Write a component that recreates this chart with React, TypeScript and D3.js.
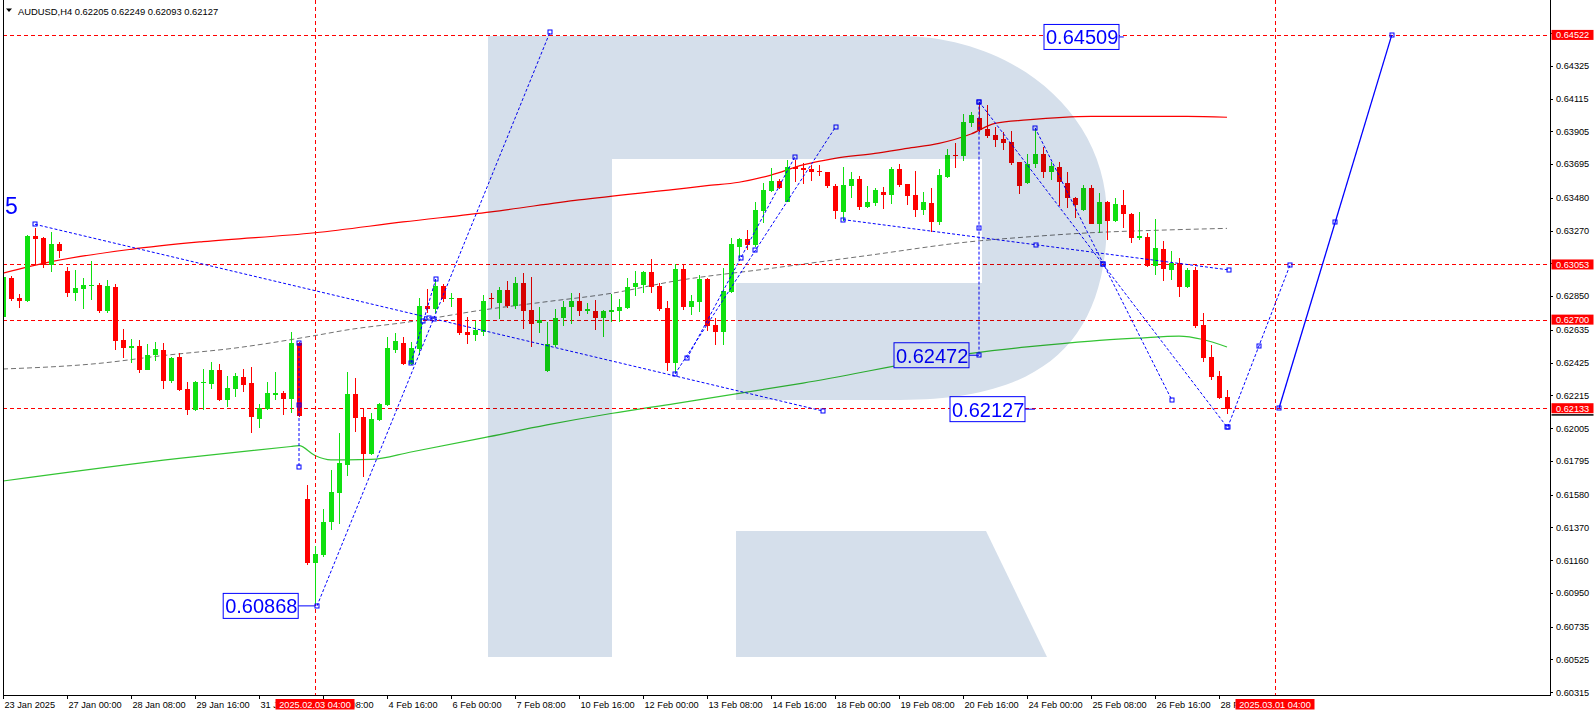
import React from 'react';
import * as d3 from 'd3';

type Bar = [number, number, number, number]; // open, high, low, close
type Pt = [number, number]; // bar index, price

// 23-24 Jan (from 23 Jan 16:00)
const weekJan23: Bar[] = [
  [0.62719, 0.62985, 0.62538, 0.62975], [0.62964, 0.62979, 0.62821, 0.62832],
  [0.62840, 0.62864, 0.62776, 0.62821], [0.62821, 0.63240, 0.62815, 0.63235],
  [0.63235, 0.63284, 0.63050, 0.63216], [0.63224, 0.63230, 0.63028, 0.63047],
  [0.63047, 0.63263, 0.63007, 0.63186], [0.63186, 0.63199, 0.63092, 0.63141],
];
// 27-31 Jan
const weekJan27: Bar[] = [
  [0.63013, 0.63039, 0.62847, 0.62873], [0.62873, 0.63018, 0.62821, 0.62902],
  [0.62898, 0.62966, 0.62766, 0.62922], [0.62915, 0.63075, 0.62826, 0.62919],
  [0.62922, 0.62937, 0.62740, 0.62757], [0.62757, 0.62954, 0.62740, 0.62915],
  [0.62907, 0.62928, 0.62506, 0.62565], [0.62570, 0.62638, 0.62452, 0.62521],
  [0.62521, 0.62574, 0.62425, 0.62533], [0.62533, 0.62570, 0.62361, 0.62378],
  [0.62378, 0.62544, 0.62375, 0.62474], [0.62472, 0.62559, 0.62437, 0.62512],
  [0.62506, 0.62548, 0.62258, 0.62309], [0.62305, 0.62460, 0.62297, 0.62455],
  [0.62461, 0.62489, 0.62245, 0.62250], [0.62256, 0.62299, 0.62090, 0.62122],
  [0.62122, 0.62305, 0.62115, 0.62301], [0.62297, 0.62382, 0.62122, 0.62301],
  [0.62288, 0.62429, 0.62254, 0.62378], [0.62378, 0.62416, 0.62177, 0.62186],
  [0.62186, 0.62339, 0.62143, 0.62262], [0.62258, 0.62360, 0.62203, 0.62339],
  [0.62333, 0.62386, 0.62237, 0.62282], [0.62294, 0.62399, 0.61977, 0.62079],
  [0.62066, 0.62160, 0.62006, 0.62132], [0.62128, 0.62301, 0.62122, 0.62230],
  [0.62220, 0.62365, 0.62186, 0.62230], [0.62230, 0.62241, 0.62092, 0.62194],
  [0.62192, 0.62620, 0.62100, 0.62548], [0.62548, 0.62559, 0.62080, 0.62083],
];
// 3-7 Feb
const weekFeb03: Bar[] = [
  [0.61554, 0.61642, 0.61130, 0.61145], [0.61145, 0.61251, 0.60880, 0.61200],
  [0.61194, 0.61486, 0.61183, 0.61405], [0.61407, 0.61738, 0.61354, 0.61597],
  [0.61593, 0.61977, 0.61392, 0.61780], [0.61770, 0.62365, 0.61699, 0.62224],
  [0.62224, 0.62326, 0.61981, 0.62073], [0.62079, 0.62134, 0.61695, 0.61840],
  [0.61840, 0.62100, 0.61835, 0.62062], [0.62058, 0.62169, 0.62050, 0.62160],
  [0.62154, 0.62587, 0.62150, 0.62516], [0.62506, 0.62612, 0.62484, 0.62563],
  [0.62548, 0.62591, 0.62410, 0.62416], [0.62416, 0.62557, 0.62410, 0.62516],
  [0.62512, 0.62836, 0.62474, 0.62787], [0.62787, 0.62894, 0.62740, 0.62768],
  [0.62766, 0.62958, 0.62740, 0.62915], [0.62915, 0.62928, 0.62815, 0.62834],
  [0.62834, 0.62872, 0.62783, 0.62836], [0.62836, 0.62840, 0.62602, 0.62617],
  [0.62621, 0.62715, 0.62544, 0.62604], [0.62604, 0.62689, 0.62565, 0.62634],
  [0.62623, 0.62858, 0.62595, 0.62820], [0.62838, 0.62872, 0.62772, 0.62832],
  [0.62804, 0.62911, 0.62702, 0.62890], [0.62890, 0.62947, 0.62772, 0.62787],
  [0.62787, 0.62971, 0.62766, 0.62932], [0.62932, 0.62996, 0.62642, 0.62757],
  [0.62761, 0.62975, 0.62523, 0.62672], [0.62676, 0.62783, 0.62612, 0.62698],
];
// 10-14 Feb
const weekFeb10: Bar[] = [
  [0.62374, 0.62685, 0.62367, 0.62544], [0.62537, 0.62766, 0.62527, 0.62708],
  [0.62708, 0.62821, 0.62659, 0.62779], [0.62779, 0.62868, 0.62672, 0.62819],
  [0.62819, 0.62868, 0.62723, 0.62757], [0.62757, 0.62808, 0.62736, 0.62770],
  [0.62755, 0.62826, 0.62634, 0.62712], [0.62712, 0.62762, 0.62591, 0.62755],
  [0.62749, 0.62864, 0.62687, 0.62762], [0.62758, 0.62832, 0.62687, 0.62779],
  [0.62772, 0.62964, 0.62766, 0.62907], [0.62907, 0.63011, 0.62851, 0.62936],
  [0.62922, 0.63010, 0.62872, 0.63005], [0.63005, 0.63086, 0.62872, 0.62911],
  [0.62915, 0.62932, 0.62757, 0.62770], [0.62772, 0.62819, 0.62373, 0.62425],
  [0.62425, 0.63056, 0.62356, 0.63024], [0.63024, 0.63054, 0.62762, 0.62783],
  [0.62783, 0.62858, 0.62730, 0.62819], [0.62815, 0.62986, 0.62751, 0.62960],
  [0.62960, 0.62965, 0.62627, 0.62661], [0.62665, 0.62708, 0.62538, 0.62623],
  [0.62619, 0.63028, 0.62538, 0.62883], [0.62875, 0.63220, 0.62868, 0.63182],
  [0.63167, 0.63225, 0.63092, 0.63216], [0.63216, 0.63274, 0.63146, 0.63178],
  [0.63178, 0.63451, 0.63167, 0.63402], [0.63397, 0.63572, 0.63316, 0.63530],
  [0.63523, 0.63668, 0.63519, 0.63587], [0.63587, 0.63598, 0.63534, 0.63545],
];
// 17-21 Feb
const weekFeb17: Bar[] = [
  [0.63455, 0.63722, 0.63450, 0.63679], [0.63679, 0.63722, 0.63579, 0.63664],
  [0.63672, 0.63700, 0.63566, 0.63658], [0.63664, 0.63690, 0.63587, 0.63647],
  [0.63651, 0.63690, 0.63621, 0.63643], [0.63643, 0.63647, 0.63540, 0.63557],
  [0.63557, 0.63568, 0.63344, 0.63397], [0.63391, 0.63679, 0.63331, 0.63562],
  [0.63557, 0.63647, 0.63481, 0.63600], [0.63600, 0.63621, 0.63402, 0.63423],
  [0.63423, 0.63557, 0.63417, 0.63451], [0.63444, 0.63540, 0.63429, 0.63530],
  [0.63515, 0.63551, 0.63408, 0.63498], [0.63498, 0.63679, 0.63438, 0.63664],
  [0.63664, 0.63694, 0.63551, 0.63562], [0.63566, 0.63568, 0.63434, 0.63493],
  [0.63498, 0.63651, 0.63359, 0.63402], [0.63402, 0.63515, 0.63370, 0.63451],
  [0.63444, 0.63545, 0.63263, 0.63323], [0.63323, 0.63664, 0.63306, 0.63626],
  [0.63615, 0.63792, 0.63604, 0.63754], [0.63754, 0.63828, 0.63672, 0.63750],
  [0.63750, 0.64014, 0.63715, 0.63963], [0.63956, 0.64031, 0.63935, 0.64010],
  [0.63992, 0.64095, 0.63903, 0.63916], [0.63920, 0.64074, 0.63864, 0.63877],
  [0.63881, 0.63933, 0.63805, 0.63852], [0.63856, 0.63899, 0.63785, 0.63832],
  [0.63837, 0.63909, 0.63690, 0.63702], [0.63707, 0.63711, 0.63506, 0.63557],
];
// 24-28 Feb
const weekFeb24: Bar[] = [
  [0.63576, 0.63758, 0.63570, 0.63694], [0.63694, 0.63928, 0.63672, 0.63758],
  [0.63758, 0.63807, 0.63604, 0.63647], [0.63647, 0.63707, 0.63594, 0.63685],
  [0.63679, 0.63707, 0.63429, 0.63579], [0.63574, 0.63643, 0.63417, 0.63476],
  [0.63476, 0.63487, 0.63353, 0.63434], [0.63402, 0.63562, 0.63398, 0.63540],
  [0.63540, 0.63562, 0.63310, 0.63314], [0.63314, 0.63508, 0.63252, 0.63451],
  [0.63451, 0.63459, 0.63210, 0.63331], [0.63331, 0.63476, 0.63327, 0.63438],
  [0.63434, 0.63527, 0.63289, 0.63374], [0.63376, 0.63380, 0.63188, 0.63225],
  [0.63225, 0.63387, 0.63210, 0.63237], [0.63227, 0.63252, 0.63039, 0.63045],
  [0.63045, 0.63344, 0.62986, 0.63156], [0.63152, 0.63203, 0.62947, 0.63024],
  [0.63018, 0.63139, 0.62954, 0.63060], [0.63060, 0.63092, 0.62845, 0.62909],
  [0.62909, 0.63028, 0.62900, 0.63018], [0.63018, 0.63039, 0.62644, 0.62661],
  [0.62666, 0.62740, 0.62431, 0.62457], [0.62461, 0.62538, 0.62314, 0.62333],
  [0.62339, 0.62371, 0.62195, 0.62201], [0.62205, 0.62249, 0.62093, 0.62127],
];

const bars: Bar[] = [...weekJan23, ...weekJan27, ...weekFeb03, ...weekFeb10, ...weekFeb17, ...weekFeb24];

// moving averages, read at selected bars
const maRed: Pt[] = [
  [0, 0.62998], [6, 0.63071], [16, 0.63150], [25, 0.63199], [39, 0.63256], [50, 0.63325],
  [61, 0.63390], [72, 0.63466], [84, 0.63534], [88, 0.63557], [92, 0.63579], [96, 0.63625],
  [100, 0.63690], [104, 0.63732], [109, 0.63764], [113, 0.63796], [117, 0.63828], [121, 0.63888],
  [124, 0.63956], [128, 0.63978], [136, 0.64001], [148, 0.64001], [153, 0.63995],
];
const maGreen: Pt[] = [
  [0, 0.61667], [22, 0.61812], [36, 0.61888], [37, 0.61893], [39, 0.61830], [41, 0.61802],
  [43, 0.61802], [46, 0.61805], [51, 0.61853], [60, 0.61943], [68, 0.62026], [76, 0.62099],
  [84, 0.62163], [100, 0.62294], [121, 0.62484], [128, 0.62525], [136, 0.62563], [142, 0.62582],
  [147, 0.62595], [150, 0.62573], [153, 0.62525],
];
const maGray: Pt[] = [
  [0, 0.62384], [12, 0.62420], [20, 0.62470], [29, 0.62518], [39, 0.62598], [43, 0.62634],
  [51, 0.62687], [60, 0.62762], [68, 0.62815], [76, 0.62868], [84, 0.62947], [96, 0.63028],
  [108, 0.63110], [121, 0.63199], [128, 0.63229], [136, 0.63256], [145, 0.63273], [153, 0.63284],
];

// analyst drawings
const dashedTrends: Pt[][] = [
  [[4, 0.63310], [102.5, 0.62115]],
  [[39.25, 0.60868], [68.4, 0.64543]],
  [[51, 0.62422], [54.1, 0.62960]],
  [[37, 0.62550], [37, 0.61759]],
  [[85.5, 0.62452], [99, 0.63743]],
  [[84, 0.62352], [104.1, 0.63935]],
  [[122, 0.64095], [122, 0.62472]],
  [[122, 0.64095], [153, 0.62013]],
  [[129, 0.63928], [146.1, 0.62186]],
  [[105, 0.63340], [153.25, 0.63018]],
  [[153.1, 0.62013], [160.9, 0.63052]],
];
const solidForecast: Pt[] = [[159.5, 0.62133], [173.6, 0.64522]];

const notes = [
  { label: '0.64509', price: 0.64509, anchorBar: 140.1, boxBar: 139.5 },
  { label: '0.62472', price: 0.62472, anchorBar: 122, boxBar: 120.75 },
  { label: '0.62127', price: 0.62127, anchorBar: 129, boxBar: 127.75 },
  { label: '0.60868', price: 0.60868, anchorBar: 39, boxBar: 36.9 },
];

const hLevels = [0.64522, 0.63053, 0.62700, 0.62133];
const vLevels = [
  { bar: 39, label: '2025.02.03 04:00' },
  { bar: 159, label: '2025.03.01 04:00' },
];

const priceTicks = [
  0.64535, 0.64325, 0.64115, 0.63905, 0.63695, 0.63480, 0.63270, 0.63060, 0.62850, 0.62635,
  0.62425, 0.62215, 0.62005, 0.61795, 0.61580, 0.61370, 0.61160, 0.60950, 0.60735, 0.60525, 0.60315,
];
const timeTicks = [
  '23 Jan 2025', '27 Jan 00:00', '28 Jan 08:00', '29 Jan 16:00', '31 Jan 00:00', '3 Feb 08:00',
  '4 Feb 16:00', '6 Feb 00:00', '7 Feb 08:00', '10 Feb 16:00', '12 Feb 00:00', '13 Feb 08:00',
  '14 Feb 16:00', '18 Feb 00:00', '19 Feb 08:00', '20 Feb 16:00', '24 Feb 00:00', '25 Feb 08:00',
  '26 Feb 16:00', '28 Feb 00:00',
];
const barsPerTimeTick = 8;

const W = 1596;
const H = 716;
const L = 3;
const R = 1550;
const B = 695;
const FONT = '"Liberation Sans", Arial, sans-serif';
const BLUE = '#0000ff';
const BULL = '#10e010';
const BEAR = '#ff0000';
const TAG_W = 79;

export default function App() {
  const x = d3.scaleLinear().domain([0, 193.375]).range([L, R]);
  const y = d3.scaleLinear().domain([0.60315, 0.64325]).range([692.3, 65.7]);
  const smooth = d3.line<Pt>().x(d => x(d[0])).y(d => y(d[1])).curve(d3.curveMonotoneX);
  const straight = d3.line<Pt>().x(d => x(d[0])).y(d => y(d[1]));
  const last = bars[bars.length - 1];

  const marker = (px: number, py: number, k: string) => (
    <rect key={k} x={Math.round(px) - 2} y={Math.round(py) - 2} width={4} height={4}
      fill="none" stroke={BLUE} strokeWidth={1} />
  );
  const anchors = (pts: Pt[], k: string) => {
    const a = pts[0];
    const b = pts[pts.length - 1];
    const mid: Pt = [(a[0] + b[0]) / 2, (a[1] + b[1]) / 2];
    return [a, mid, b].map((p, j) => marker(x(p[0]), y(p[1]), `${k}-${j}`));
  };

  // the red time tags hide parts of the regular labels beneath them
  const tagEdges = vLevels.map(v => [x(v.bar) - TAG_W / 2, x(v.bar) + TAG_W / 2]);
  const freeSpans: [number, number][] = [];
  let from = 0;
  tagEdges.forEach(([a, b]) => { freeSpans.push([from, a]); from = b; });
  freeSpans.push([from, W]);

  return (
    <svg width={W} height={H} style={{ position: 'absolute', left: 0, top: 0, background: '#fff' }}
      fontFamily={FONT}>
      <defs>
        <clipPath id="plot"><rect x={L} y={0} width={R - L} height={B} /></clipPath>
        <clipPath id="timeFree">
          {freeSpans.map(([a, b], k) => <rect key={k} x={a} y={B} width={b - a} height={H - B} />)}
        </clipPath>
      </defs>
      <rect width={W} height={H} fill="#fff" />

      <g clipPath="url(#plot)">
        {/* moving averages */}
        <path d={smooth(maGray) || ''} fill="none" stroke="#707070" strokeWidth={1} strokeDasharray="5,3" />
        <path d={smooth(maGreen) || ''} fill="none" stroke="#33c433" strokeWidth={1.2} />
        <path d={smooth(maRed) || ''} fill="none" stroke="#ff0000" strokeWidth={1.2} />

        {/* level lines */}
        {hLevels.map(p => (
          <line key={p} x1={L} x2={R} y1={Math.round(y(p)) + 0.5} y2={Math.round(y(p)) + 0.5}
            stroke="#ff0000" strokeDasharray="4,3" />
        ))}
        {vLevels.map(v => (
          <line key={v.bar} x1={Math.round(x(v.bar)) + 0.5} x2={Math.round(x(v.bar)) + 0.5} y1={0} y2={B}
            stroke="#ff0000" strokeDasharray="4,3" />
        ))}

        {/* candles */}
        <g shapeRendering="crispEdges">
          {bars.map((d, i) => {
            const [o, h, l, c] = d;
            const cx = Math.round(x(i));
            const col = c >= o ? BULL : BEAR;
            const top = y(Math.max(o, c));
            const hgt = Math.max(1, Math.abs(y(o) - y(c)));
            return (
              <g key={i}>
                <line x1={cx + 0.5} x2={cx + 0.5} y1={y(h)} y2={y(l)} stroke={col} strokeWidth={1} />
                <rect x={cx - 2} y={top} width={5} height={hgt} fill={col} />
              </g>
            );
          })}
        </g>

        {/* drawings */}
        {dashedTrends.map((t, k) => (
          <g key={k}>
            <path d={straight(t) || ''} fill="none" stroke={BLUE} strokeWidth={1} strokeDasharray="3,2" />
            {anchors(t, `t${k}`)}
          </g>
        ))}
        <path d={straight(solidForecast) || ''} fill="none" stroke={BLUE} strokeWidth={1.3} />
        {anchors(solidForecast, 'sf')}

        {notes.map(n => {
          const bx = x(n.boxBar);
          const cy = y(n.price);
          return (
            <g key={n.label}>
              <line x1={bx} x2={x(n.anchorBar)} y1={cy} y2={cy} stroke={BLUE} />
              <rect x={bx - 75} y={cy - 12.5} width={75} height={25} fill="#fff" stroke={BLUE} />
              <text x={bx - 73} y={cy + 7.5} fontSize={20} fill={BLUE}>{n.label}</text>
            </g>
          );
        })}
        <text x={5} y={214} fontSize={23} fill={BLUE}>5</text>

        {/* watermark */}
        <g style={{ mixBlendMode: 'multiply' }} fill="#d5dfeb">
          <path d="M488,36 H900 C1010,36 1107,110 1107,217 C1107,345 1040,400 900,400 H736 V283 H982 V159 H612 V657 H488 Z" />
          <path d="M736,531 H986 L1047,657 H736 Z" />
        </g>
      </g>

      {/* header */}
      <path d="M6,8.5 H12 L9,12 Z" fill="#000" />
      <text x={18} y={14.5} fontSize={9.4} fill="#000">
        {`AUDUSD,H4  ${last.map(v => v.toFixed(5)).join(' ')}`}
      </text>

      {/* frame */}
      <g shapeRendering="crispEdges" stroke="#000">
        <line x1={L + 0.5} x2={L + 0.5} y1={0} y2={B} />
        <line x1={R + 0.5} x2={R + 0.5} y1={0} y2={B + 1} />
        <line x1={L} x2={R + 1} y1={B + 0.5} y2={B + 0.5} />
      </g>

      {/* price axis */}
      {priceTicks.map(p => (
        <g key={p}>
          <line x1={R} x2={R + 3} y1={Math.round(y(p)) + 0.5} y2={Math.round(y(p)) + 0.5} stroke="#000" />
          <text x={R + 6} y={y(p) + 3.3} fontSize={9.2} fill="#000">{p.toFixed(5)}</text>
        </g>
      ))}
      {hLevels.map(p => (
        <g key={p}>
          <rect x={R + 1.5} y={y(p) - 5} width={42} height={10} fill="#ff0000" />
          <text x={R + 6} y={y(p) + 3.3} fontSize={9.2} fill="#fff">{p.toFixed(5)}</text>
        </g>
      ))}
      <rect x={R + 1.5} y={y(last[3]) + 5} width={42} height={1.5} fill="#000" />

      {/* time axis */}
      {timeTicks.map((t, k) => {
        const tx = Math.round(x(k * barsPerTimeTick));
        return (
          <g key={t}>
            <line x1={tx + 0.5} x2={tx + 0.5} y1={B} y2={B + 4} stroke="#000" />
            <text x={tx + 1.5} y={708} fontSize={9.2} fill="#000" clipPath="url(#timeFree)">{t}</text>
          </g>
        );
      })}
      {vLevels.map(v => (
        <g key={v.label}>
          <rect x={x(v.bar) - TAG_W / 2} y={699} width={TAG_W} height={10.5} fill="#ff0000" />
          <text x={x(v.bar)} y={708} fontSize={9.2} fill="#fff" textAnchor="middle">{v.label}</text>
        </g>
      ))}
    </svg>
  );
}
